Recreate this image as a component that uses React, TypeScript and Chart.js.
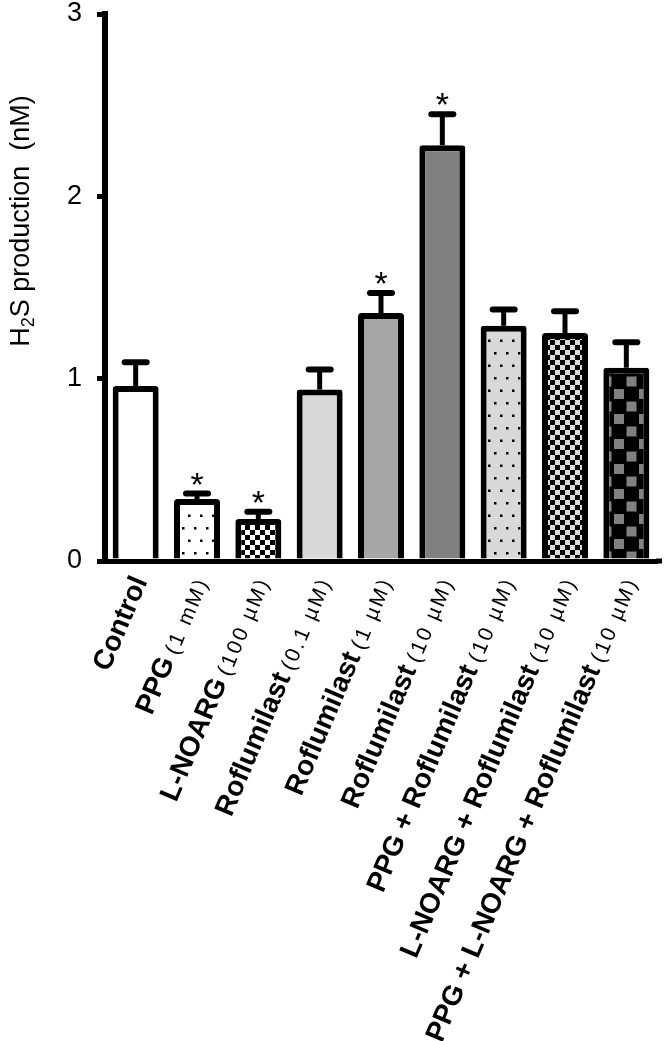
import React, { useEffect, useRef } from "react";
import { Chart, registerables } from "chart.js";

Chart.register(...registerables);

// ---- data ----
const categories = [
  "Control",
  "PPG",
  "L-NOARG",
  "Roflumilast",
  "Roflumilast",
  "Roflumilast",
  "PPG + Roflumilast",
  "L-NOARG + Roflumilast",
  "PPG + L-NOARG + Roflumilast",
];
const doses = ["", "(1 mM)", "(100 µM)", "(0.1 µM)", "(1 µM)", "(10 µM)", "(10 µM)", "(10 µM)", "(10 µM)"];
const means = [0.96, 0.34, 0.23, 0.94, 1.36, 2.28, 1.29, 1.25, 1.06];
const errorTops = [1.09, 0.37, 0.27, 1.05, 1.47, 2.45, 1.38, 1.37, 1.2];
const significant = [false, true, true, false, true, true, false, false, false];
const fillKinds = ["white", "dotsWhite", "checkWhite", "light", "mid", "dark", "dotsLight", "checkLight", "checkBig"];
const yMin = 0;
const yMax = 3;
const yStep = 1;

const FONT = '"Liberation Sans", Arial, sans-serif';

function makeFill(kind: string): string | CanvasPattern {
  const solid: Record<string, string> = { white: "#ffffff", light: "#d9d9d9", mid: "#a6a6a6", dark: "#808080" };
  if (solid[kind]) return solid[kind];
  const c = document.createElement("canvas");
  const g = c.getContext("2d")!;
  if (kind === "dotsWhite" || kind === "dotsLight") {
    c.width = 12;
    c.height = 25;
    g.fillStyle = kind === "dotsWhite" ? "#ffffff" : "#d9d9d9";
    g.fillRect(0, 0, 12, 25);
    g.fillStyle = "#000";
    g.fillRect(2, 2, 2.5, 2.5);
    g.fillRect(8, 14.5, 2.5, 2.5);
  } else if (kind === "checkWhite" || kind === "checkLight") {
    c.width = 10;
    c.height = 10;
    g.fillStyle = kind === "checkWhite" ? "#ffffff" : "#dcdcdc";
    g.fillRect(0, 0, 10, 10);
    g.fillStyle = "#000";
    g.fillRect(0, 0, 5, 5);
    g.fillRect(5, 5, 5, 5);
  } else {
    c.width = 25;
    c.height = 25;
    g.fillStyle = "#000";
    g.fillRect(0, 0, 25, 25);
    g.fillStyle = "#808080";
    g.fillRect(1.5, 1.5, 10, 10);
    g.fillRect(14, 14, 10, 10);
  }
  return g.createPattern(c, "repeat")!;
}

const overlay = {
  id: "overlay",
  afterDatasetsDraw(chart: any) {
    const { ctx, scales } = chart;
    const x = scales.x;
    const y = scales.y;
    ctx.save();
    ctx.strokeStyle = "#000";
    ctx.fillStyle = "#000";
    means.forEach((m, i) => {
      const cx = x.getPixelForValue(i);
      const y0 = y.getPixelForValue(m);
      const y1 = y.getPixelForValue(errorTops[i]);
      ctx.lineWidth = 5;
      ctx.lineCap = "butt";
      ctx.beginPath();
      ctx.moveTo(cx, y0);
      ctx.lineTo(cx, y1);
      ctx.stroke();
      ctx.lineWidth = 6;
      ctx.lineCap = "round";
      ctx.beginPath();
      ctx.moveTo(cx - 11, y1);
      ctx.lineTo(cx + 11, y1);
      ctx.stroke();
      if (significant[i]) {
        ctx.font = `34px ${FONT}`;
        ctx.textAlign = "center";
        ctx.textBaseline = "alphabetic";
        ctx.fillText("*", cx, y1 + 2);
      }
    });
    // small extension of the x axis line beyond the last category
    ctx.lineWidth = 5;
    ctx.lineCap = "butt";
    ctx.beginPath();
    ctx.moveTo(x.right - 1, x.top);
    ctx.lineTo(x.right + 5, x.top);
    ctx.stroke();
    ctx.restore();
  },
  afterDraw(chart: any) {
    const { ctx, scales } = chart;
    const x = scales.x;
    ctx.save();
    ctx.fillStyle = "#000";
    // category labels (bold name + regular dose)
    const ang = (-67 * Math.PI) / 180;
    categories.forEach((name, i) => {
      const cx = x.getPixelForValue(i);
      ctx.save();
      ctx.translate(cx + 12, x.top + 20);
      ctx.rotate(ang);
      ctx.textAlign = "right";
      ctx.textBaseline = "alphabetic";
      let end = 0;
      if (doses[i]) {
        ctx.font = `21px ${FONT}`;
        (ctx as any).letterSpacing = "2.5px";
        ctx.fillText(doses[i], 0, 0);
        end = -(ctx.measureText(doses[i]).width + 6);
        (ctx as any).letterSpacing = "0px";
      }
      ctx.font = `bold 28px ${FONT}`;
      ctx.fillText(name, end, 0);
      ctx.restore();
    });
    // y-axis title with subscript
    const cx = 22;
    const cy = 221;
    ctx.translate(cx, cy);
    ctx.rotate(-Math.PI / 2);
    ctx.textAlign = "left";
    ctx.textBaseline = "middle";
    const big = `27px ${FONT}`;
    const small = `18px ${FONT}`;
    const p1 = "H";
    const p2 = "2";
    const p3 = "S production  (nM)";
    ctx.font = big;
    const w1 = ctx.measureText(p1).width;
    const w3 = ctx.measureText(p3).width;
    ctx.font = small;
    const w2 = ctx.measureText(p2).width;
    let sx = -(w1 + w2 + w3) / 2;
    ctx.font = big;
    ctx.fillText(p1, sx, 0);
    sx += w1;
    ctx.font = small;
    ctx.fillText(p2, sx, 7);
    sx += w2;
    ctx.font = big;
    ctx.fillText(p3, sx, 0);
    ctx.restore();
  },
};

export default function App() {
  const ref = useRef<HTMLCanvasElement>(null);
  useEffect(() => {
    if (!ref.current) return;
    const labels = categories.map((c, i) => (doses[i] ? `${c} ${doses[i]}` : c));
    const chart = new Chart(ref.current, {
      type: "bar",
      data: {
        labels,
        datasets: [
          {
            data: means,
            backgroundColor: fillKinds.map(makeFill) as any,
            borderColor: "#000",
            borderWidth: 6,
            borderSkipped: "start",
            borderRadius: 3,
            barPercentage: 0.75,
            categoryPercentage: 1,
          },
        ],
      },
      options: {
        responsive: false,
        animation: false,
        events: [],
        layout: { padding: { top: 14, right: 9, left: 0, bottom: 0 } },
        plugins: { legend: { display: false }, tooltip: { enabled: false } },
        scales: {
          x: {
            type: "category",
            z: 1,
            ticks: { display: false },
            grid: { display: true, drawOnChartArea: false, drawTicks: false },
            border: { display: true, color: "#000", width: 5 },
            afterFit: (s: any) => {
              s.height = 480;
              s.paddingLeft = 0;
              s.paddingRight = 0;
            },
          },
          y: {
            min: yMin,
            max: yMax,
            ticks: { stepSize: yStep, color: "#000", font: { family: FONT, size: 27 }, padding: 15 },
            grid: { drawOnChartArea: false, color: "#000", lineWidth: 5, tickLength: 8 },
            border: { display: true, color: "#000", width: 6 },
            afterFit: (s: any) => {
              s.width = 105;
              s.paddingTop = 0;
              s.paddingBottom = 0;
            },
          },
        },
      },
      plugins: [overlay],
    });
    return () => chart.destroy();
  }, []);
  return (
    <div style={{ position: "absolute", left: 0, top: 0, width: 666, height: 1041 }}>
      <canvas ref={ref} width={666} height={1041} style={{ display: "block" }} />
    </div>
  );
}
